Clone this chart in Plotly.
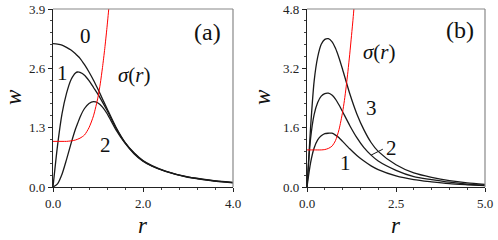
import plotly.graph_objects as go

# ---------------- Panel (a) data ----------------
r_a = [0.0, 0.1, 0.2, 0.3, 0.4, 0.5, 0.55, 0.6, 0.7, 0.8, 0.9, 1.0, 1.1, 1.2, 1.4, 1.6, 1.8, 2.0, 2.2, 2.5, 3.0, 3.5, 4.0]
w0_a = [3.14, 3.13, 3.11, 3.06, 3.0, 2.92, 2.87, 2.82, 2.68, 2.52, 2.34, 2.14, 1.93, 1.72, 1.31, 0.98, 0.75, 0.58, 0.47, 0.35, 0.22, 0.15, 0.10]
w1_a = [0.0, 0.9, 1.6, 2.05, 2.35, 2.5, 2.52, 2.51, 2.45, 2.33, 2.18, 2.03, 1.86, 1.68, 1.29, 0.97, 0.74, 0.57, 0.46, 0.345, 0.215, 0.145, 0.095]
w2_a = [0.0, 0.07, 0.28, 0.6, 0.95, 1.27, 1.4, 1.53, 1.72, 1.83, 1.87, 1.84, 1.75, 1.61, 1.25, 0.96, 0.73, 0.565, 0.455, 0.34, 0.21, 0.14, 0.09]
r_sig_a = [0.0, 0.2, 0.3, 0.4, 0.5, 0.6, 0.7, 0.8, 0.9, 1.0, 1.05, 1.1, 1.15, 1.2, 1.25, 1.3]
sig_a = [1.0, 1.0, 1.0, 1.01, 1.03, 1.07, 1.14, 1.3, 1.56, 1.97, 2.26, 2.62, 3.03, 3.5, 4.02, 4.6]

# ---------------- Panel (b) data ----------------
r_b = [0.0, 0.1, 0.2, 0.3, 0.4, 0.5, 0.6, 0.7, 0.8, 0.9, 1.0, 1.2, 1.4, 1.6, 1.8, 2.0, 2.5, 3.0, 3.5, 4.0, 4.5, 5.0]
w3_b = [0.0, 1.6, 2.85, 3.5, 3.85, 3.98, 4.0, 3.92, 3.74, 3.48, 3.17, 2.52, 1.97, 1.54, 1.2, 0.96, 0.6, 0.38, 0.26, 0.17, 0.11, 0.07]
w2_b = [0.0, 1.3, 1.95, 2.28, 2.45, 2.52, 2.53, 2.48, 2.37, 2.21, 2.03, 1.66, 1.33, 1.06, 0.86, 0.7, 0.45, 0.28, 0.2, 0.13, 0.08, 0.05]
w1_b = [0.0, 0.65, 1.05, 1.27, 1.38, 1.44, 1.45, 1.45, 1.4, 1.33, 1.23, 1.03, 0.85, 0.7, 0.57, 0.47, 0.3, 0.2, 0.14, 0.09, 0.06, 0.035]
r_sig_b = [0.0, 0.2, 0.4, 0.5, 0.6, 0.7, 0.8, 0.9, 1.0, 1.05, 1.1, 1.15, 1.2, 1.25, 1.3, 1.35]
sig_b = [1.0, 1.0, 1.0, 1.01, 1.04, 1.1, 1.25, 1.55, 2.02, 2.33, 2.7, 3.12, 3.58, 4.08, 4.6, 5.2]

xticks_a = [0.0, 2.0, 4.0]
yticks_a = [0.0, 1.3, 2.6, 3.9]
xticks_b = [0.0, 2.5, 5.0]
yticks_b = [0.0, 1.6, 3.2, 4.8]

FONT = "Times New Roman, DejaVu Serif"
BLACK = "#1a1a1a"
RED = "#ff0000"

fig = go.Figure()

def line(x, y, xa, ya, color=BLACK, width=1.3):
    fig.add_trace(go.Scatter(x=x, y=y, mode="lines", xaxis=xa, yaxis=ya,
                             line=dict(color=color, width=width, shape="spline", smoothing=0.7),
                             showlegend=False, hoverinfo="skip"))

line(r_a, w0_a, "x", "y")
line(r_a, w1_a, "x", "y")
line(r_a, w2_a, "x", "y")
line(r_sig_a, sig_a, "x", "y", RED, 1.0)

line(r_b, w3_b, "x2", "y2")
line(r_b, w2_b, "x2", "y2")
line(r_b, w1_b, "x2", "y2")
line(r_sig_b, sig_b, "x2", "y2", RED, 1.0)

tickfont = dict(family=FONT, size=13, color="#222")

def axis(dom, rng, ticks, minor, anchor):
    return dict(domain=dom, range=rng, tickvals=ticks, ticktext=[f"{t:.1f}" for t in ticks],
                showgrid=False, zeroline=False, showline=True, linecolor="#222", linewidth=1.2,
                ticks="outside", ticklen=4, tickwidth=1, tickcolor="#222", tickfont=tickfont,
                minor=dict(dtick=minor, tick0=0, ticks="outside", ticklen=2, tickcolor="#444", showgrid=False),
                anchor=anchor, fixedrange=True, automargin=False)

ydom = [53 / 240, 231 / 240]
fig.update_layout(
    width=498, height=240,
    margin=dict(l=0, r=0, t=0, b=0, pad=0, autoexpand=False),
    paper_bgcolor="white", plot_bgcolor="white",
    font=dict(family=FONT),
    xaxis=axis([53 / 498, 233 / 498], [0, 4.0], xticks_a, 0.4, "y"),
    yaxis=axis(ydom, [0, 3.9], yticks_a, 0.26, "x"),
    xaxis2=axis([307 / 498, 485 / 498], [0, 5.0], xticks_b, 0.5, "y2"),
    yaxis2=axis(ydom, [0, 4.8], yticks_b, 0.32, "x2"),
)

# top/right frame lines (gray)
for xa, ya in [("x", "y"), ("x2", "y2")]:
    fig.add_shape(type="line", xref=f"{xa} domain", yref=f"{ya} domain", x0=0, x1=1, y0=1, y1=1,
                  line=dict(color="#888", width=1.2))
    fig.add_shape(type="line", xref=f"{xa} domain", yref=f"{ya} domain", x0=1, x1=1, y0=0, y1=1,
                  line=dict(color="#888", width=1.2))

# pointer for label "2" in panel (b)
fig.add_shape(type="line", xref="x2", yref="y2", x0=1.8, y0=0.86, x1=2.13, y1=1.02,
              line=dict(color=BLACK, width=1))

def ann(text, x, y, xref, yref, size=21, angle=0):
    fig.add_annotation(text=text, x=x, y=y, xref=xref, yref=yref, showarrow=False, textangle=angle,
                       font=dict(family=FONT, size=size, color="#111"), xanchor="center", yanchor="middle")

ann("0", 0.73, 3.31, "x", "y")
ann("1", 0.22, 2.5, "x", "y")
ann("2", 1.16, 0.92, "x", "y")
ann("<i>σ</i>(<i>r</i>)", 1.8, 2.45, "x", "y")
ann("(a)", 3.44, 3.4, "x", "y", 24)

ann("(b)", 4.3, 4.23, "x2", "y2", 24)
ann("<i>σ</i>(<i>r</i>)", 2.05, 3.64, "x2", "y2")
ann("3", 1.8, 2.13, "x2", "y2")
ann("2", 2.38, 1.05, "x2", "y2")
ann("1", 1.07, 0.65, "x2", "y2")

# axis titles
ann("<i>w</i>", 13 / 498, 1 - 97 / 240, "paper", "paper", 23, -90)
ann("<i>w</i>", 262 / 498, 1 - 97 / 240, "paper", "paper", 23, -90)
ann("<i>r</i>", 143 / 498, 1 - 225 / 240, "paper", "paper", 23)
ann("<i>r</i>", 396 / 498, 1 - 225 / 240, "paper", "paper", 23)

fig.write_html("out.html", config={"displayModeBar": False},
               post_script="document.body.style.margin='0';document.body.style.padding='0';")
